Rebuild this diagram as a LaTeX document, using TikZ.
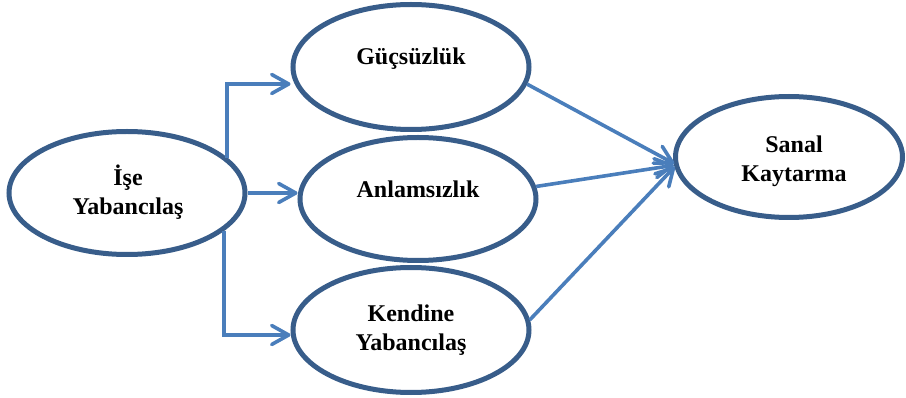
\documentclass[tikz,border=0pt]{standalone}
\usepackage{fontspec}
\setmainfont{Liberation Serif}
\usetikzlibrary{arrows.meta,calc,shapes.geometric}
\definecolor{ovalblue}{HTML}{385D8A}
\definecolor{arrowblue}{HTML}{4A7EBB}
\begin{document}
\begin{tikzpicture}[x=1pt,y=1pt,
  oval/.style={ellipse,draw=ovalblue,line width=5pt,inner sep=0pt,outer sep=0pt,minimum width=236pt,fill=white},
  lbl/.style={font=\fontsize{24}{29}\selectfont\bfseries,align=center,anchor=base,inner sep=0pt},
  conn/.style={draw=arrowblue,line width=3.6pt,shorten >=2.5pt,shorten <=2.5pt,-{Straight Barb[length=17pt,width=19pt,round]}}]
\useasboundingbox (0,0) rectangle (906,-398);
% ovals
\node[oval,minimum height=123pt] (a) at (127,-193) {};
\node[oval,minimum height=125pt] (g) at (411,-67) {};
\node[oval,minimum height=123pt] (n) at (418,-199) {};
\node[oval,minimum height=125pt] (k) at (411,-330) {};
\node[oval,minimum width=227pt,minimum height=121pt] (s) at (789,-157) {};
% texts (base = baseline of last line)
\node[lbl] (at) at (128,-215) {İşe\\Yabancılaş};
\node[lbl] (gt) at (411,-65) {Güçsüzlük};
\node[lbl] (nt) at (418,-198) {Anlamsızlık};
\node[lbl] (kt) at (411,-351) {Kendine\\Yabancılaş};
\node[lbl] (st) at (794,-182) {Sanal\\Kaytarma};
% connectors
\coordinate (sin) at (s.184);
\draw[conn] (a.18) |- ($(g.west)+(0,-17)$);
\draw[conn] (a.east) -- (a.east -| n.west);
\draw[conn] (a.-20) |- ($(k.west)+(0,-5)$);
\draw[conn] (g.-8) -- (sin);
\draw[conn] (n.6) -- (sin);
\draw[conn] (k.4) -- (sin);
\end{tikzpicture}
\end{document}
